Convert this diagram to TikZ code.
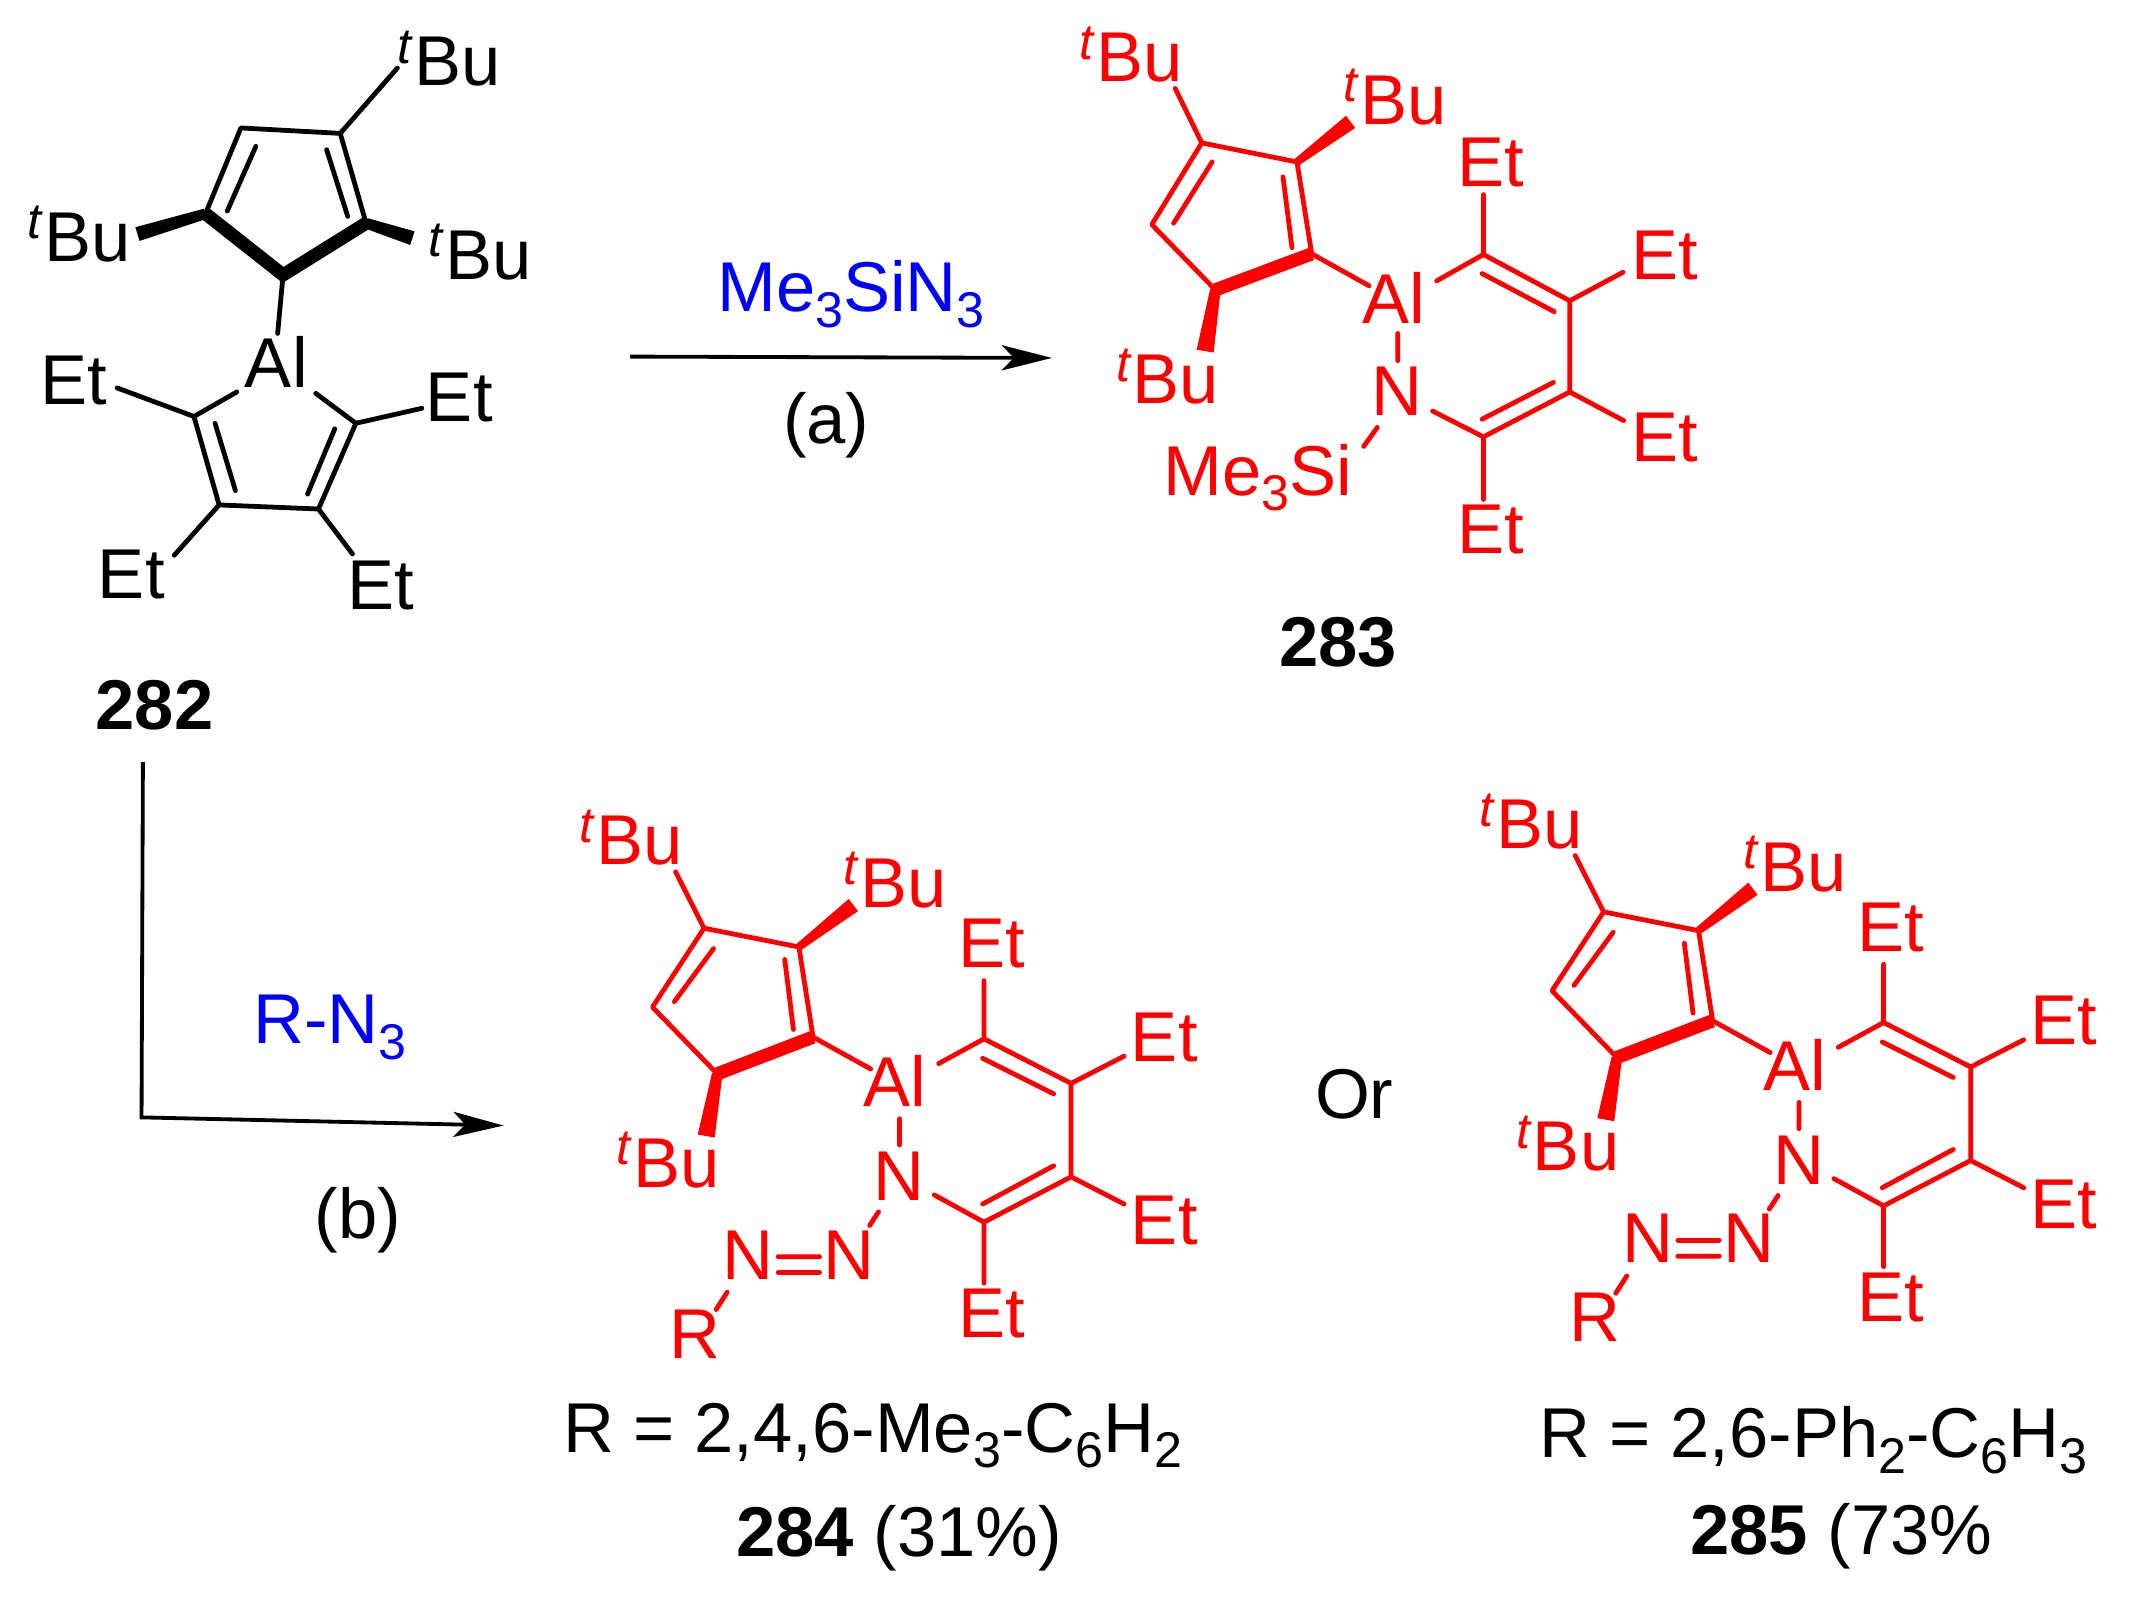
\documentclass[tikz,border=0pt]{standalone}
\usepackage{fontspec}
\setmainfont{Liberation Sans}
\usetikzlibrary{calc,arrows.meta}
\definecolor{molred}{RGB}{255,0,0}
\definecolor{reagblue}{RGB}{0,0,255}
\newcommand{\lowr}[1]{\raisebox{-0.22em}{\fontsize{21}{21}\selectfont #1}}
\newcommand{\tbu}{\raisebox{0.32em}{\fontsize{21}{21}\selectfont\itshape t}\kern1.2pt Bu}
\newcommand{\wdg}[4]{\fill ($(#1)!#3!90:(#2)$) -- ($(#1)!#3!-90:(#2)$) -- ($(#2)!#4!90:(#1)$) -- ($(#2)!#4!-90:(#1)$) -- cycle;}
\tikzset{
  lab/.style={anchor=base west,inner sep=0pt,outer sep=0pt,font=\fontsize{29.5}{29.5}\selectfont},
  captxt/.style={anchor=base west,inner sep=0pt,outer sep=0pt,font=\fontsize{29.5}{29.5}\selectfont,text=black},
  bond/.style={line width=2pt,line cap=round,line join=round},
  boldbond/.style={line width=5.5pt,line join=miter,line cap=butt},
  rxn/.style={line width=1.6pt,-{Stealth[length=21pt,width=10.5pt,inset=5pt]}}
}
% common skeleton of 284 and 285
\newcommand{\azidemol}{%
  \coordinate (ca) at (517.3,682); \coordinate (cb) at (587,695.8); \coordinate (cw) at (627,665);
  \coordinate (cc) at (597.4,762); \coordinate (cd) at (527,789); \coordinate (ce) at (479.4,740);
  \coordinate (tb) at (496.4,640.6); \coordinate (cx) at (518.9,834.7);
  \coordinate (i1) at (524.3,697); \coordinate (i2) at (495.5,736);
  \coordinate (i3) at (576.6,705); \coordinate (i4) at (583,756.4);
  \coordinate (alc) at (639.7,785.4); \coordinate (aln1) at (660.9,822); \coordinate (aln2) at (660.9,841.3);
  \coordinate (alr) at (689.7,781.5); \coordinate (r1) at (723,763.3); \coordinate (r2) at (787,796);
  \coordinate (r3) at (787,864.7); \coordinate (r4) at (723,898); \coordinate (rn) at (686.5,878);
  \coordinate (e1) at (723,720.5); \coordinate (e2) at (826,776); \coordinate (e3) at (826,884.7); \coordinate (e4) at (723,942.7);
  \coordinate (j1) at (722,777.6); \coordinate (j2) at (774.2,803.7); \coordinate (j3) at (722,884.7); \coordinate (j4) at (774.2,856.6);
  \coordinate (nn1) at (645.5,890.4); \coordinate (nn2) at (639,900.4);
  \coordinate (d1) at (571.8,923.4); \coordinate (d2) at (602.2,923.4); \coordinate (d3) at (571.8,935); \coordinate (d4) at (602.2,935);
  \coordinate (rb1) at (534.3,949.5); \coordinate (rb2) at (526.2,962.2);
  \draw[bond] (tb)--(ca)--(ce)--(cd) (ca)--(cb)--(cc) (i1)--(i2) (i3)--(i4) (cc)--(alc) (aln1)--(aln2)
    (alr)--(r1)--(r2)--(r3)--(r4)--(rn) (r1)--(e1) (r2)--(e2) (r3)--(e3) (r4)--(e4) (j1)--(j2) (j3)--(j4)
    (nn1)--(nn2) (d1)--(d2) (d3)--(d4) (rb1)--(rb2);
  \draw[boldbond] (cd)--(cc);
  \wdg{cb}{cw}{1.6pt}{3.2pt}
  \wdg{cd}{cx}{2.2pt}{3.6pt}
  \node[lab] (alu) at (634.6,813) {Al};
  \node[lab] (n1) at (642,882) {N};
  \node[lab] (n2) at (531,939.8) {N};
  \node[lab] (n3) at (605,939.8) {N};
  \node[lab] (rr) at (492,998) {R};
  \node[lab] (et1) at (704,711) {Et};
  \node[lab] (et2) at (831,779.6) {Et};
  \node[lab] (et3) at (831,914.7) {Et};
  \node[lab] (et4) at (704,983) {Et};
  \node[lab] (bu1) at (426,635.5) {\tbu};
  \node[lab] (bu2) at (620,666.8) {\tbu};
  \node[lab] (bu3) at (453,872.4) {\tbu};
}
\begin{document}
\begin{tikzpicture}[x=0.02cm,y=-0.02cm]
\useasboundingbox (0,0) rectangle (1568,1176.4);
% ---------- 282
\coordinate (a1) at (208,202); \coordinate (a2) at (151,157); \coordinate (a3) at (177,94);
\coordinate (a4) at (250,98); \coordinate (a5) at (269,164);
\coordinate (a6) at (292,50); \coordinate (a7) at (101,172); \coordinate (a8) at (303,175);
\coordinate (a9) at (204,245);
\coordinate (a10) at (188,107.5); \coordinate (a11) at (167,155); \coordinate (a12) at (240,110); \coordinate (a13) at (255.5,159);
\coordinate (b0) at (174,288); \coordinate (b1) at (142.5,306); \coordinate (b2) at (161,371);
\coordinate (b3) at (234,374); \coordinate (b4) at (261.5,311); \coordinate (b5) at (232,289);
\coordinate (b6) at (86,285); \coordinate (b7) at (310,300); \coordinate (b8) at (128,408); \coordinate (b9) at (259,407);
\coordinate (b10) at (158,311); \coordinate (b11) at (173,360.5); \coordinate (b12) at (246,315); \coordinate (b13) at (226,363);
\draw[bond] (a2)--(a3)--(a4)--(a5) (a4)--(a6) (a10)--(a11) (a12)--(a13) (a1)--(a9)
  (b0)--(b1)--(b2)--(b3)--(b4)--(b5) (b1)--(b6) (b4)--(b7) (b2)--(b8) (b3)--(b9) (b10)--(b11) (b12)--(b13);
\draw[boldbond] (a2)--(a1)--(a5);
\wdg{a2}{a7}{2.2pt}{3pt}
\wdg{a5}{a8}{2.2pt}{3pt}
\node[lab] (k0) at (180,285) {Al};
\node[lab] (k1) at (30,297) {Et};
\node[lab] (k2) at (313,310) {Et};
\node[lab] (k3) at (72,440) {Et};
\node[lab] (k4) at (255,448) {Et};
\node[lab] (k5) at (292,63) {\tbu};
\node[lab] (k6) at (20,192) {\tbu};
\node[lab] (k7) at (315,205) {\tbu};
\node[captxt,anchor=base] (l282) at (113.5,536) {\textbf{282}};
% ---------- 283
\begin{scope}[color=molred,text=molred]
\coordinate (c1) at (883,105); \coordinate (c2) at (953,119); \coordinate (c3) at (992.4,89.5);
\coordinate (c4) at (963.8,186.5); \coordinate (c5) at (893,213); \coordinate (c6) at (846.3,165);
\coordinate (c7) at (863.5,65); \coordinate (c8) at (885.5,258);
\coordinate (c9) at (890.6,119); \coordinate (c10) at (862.3,164); \coordinate (c11) at (942.7,130); \coordinate (c12) at (949.3,182);
\coordinate (c13) at (1006,210); \coordinate (c14) at (1027,245); \coordinate (c15) at (1027,265);
\coordinate (d5) at (1055.6,206.4); \coordinate (d6) at (1090,187); \coordinate (d7) at (1153.4,221);
\coordinate (d8) at (1153.4,288); \coordinate (d9) at (1090,321); \coordinate (d10) at (1052.6,302);
\coordinate (d11) at (1090,143); \coordinate (d12) at (1192.6,200); \coordinate (d13) at (1193,309); \coordinate (d14) at (1090,367);
\coordinate (d15) at (1089,201); \coordinate (d16) at (1142,229); \coordinate (d17) at (1089,308); \coordinate (d18) at (1141.4,281);
\coordinate (d19) at (1012,314); \coordinate (d20) at (1002,328);
\draw[bond] (c7)--(c1)--(c6)--(c5) (c1)--(c2)--(c4) (c9)--(c10) (c11)--(c12) (c4)--(c13) (c14)--(c15)
  (d5)--(d6)--(d7)--(d8)--(d9)--(d10) (d6)--(d11) (d7)--(d12) (d8)--(d13) (d9)--(d14) (d15)--(d16) (d17)--(d18) (d19)--(d20);
\draw[boldbond] (c5)--(c4);
\wdg{c2}{c3}{1.6pt}{3.2pt}
\wdg{c5}{c8}{2.2pt}{3.6pt}
\node[lab] (m0) at (1001,237.5) {Al};
\node[lab] (m1) at (1007.5,305) {N};
\node[lab] (m2) at (1071,137) {Et};
\node[lab] (m3) at (1199,205) {Et};
\node[lab] (m4) at (1199,339) {Et};
\node[lab] (m5) at (1071,407) {Et};
\node[lab] (m6) at (855,364) {Me\lowr{3}Si};
\node[lab] (m7) at (793,60) {\tbu};
\node[lab] (m8) at (987,91.5) {\tbu};
\node[lab] (m9) at (820,296.7) {\tbu};
\end{scope}
\node[captxt,anchor=base] (l283) at (983,490) {\textbf{283}};
% ---------- 284
\begin{scope}[color=molred,text=molred,name prefix=p-]
\azidemol
\end{scope}
\node[captxt] (t284) at (414,1067) {R = 2,4,6-Me\lowr{3}-C\lowr{6}H\lowr{2}};
\node[captxt] (l284) at (541,1144) {\textbf{284} (31\%)};
% ---------- 285
\begin{scope}[shift={(661,-12)},color=molred,text=molred,name prefix=q-]
\azidemol
\end{scope}
\node[captxt] (t285) at (1131,1071) {R = 2,6-Ph\lowr{2}-C\lowr{6}H\lowr{3}};
\node[captxt] (l285) at (1242,1142) {\textbf{285} (73\%};
\node[captxt,anchor=base] (orr) at (995,822) {Or};
% ---------- arrows and reagents
\coordinate (s1) at (463,262); \coordinate (s2) at (773,263);
\draw[rxn] (s1)--(s2);
\coordinate (s3) at (105,560); \coordinate (s4) at (104,821); \coordinate (s5) at (370,827);
\draw[rxn] (s3)--(s4)--(s5);
\node[captxt,text=reagblue] (r1t) at (527,229) {Me\lowr{3}SiN\lowr{3}};
\node[captxt,anchor=base] (ra) at (607,326) {(a)};
\node[captxt,text=reagblue] (r2t) at (186,767) {R-N\lowr{3}};
\node[captxt,anchor=base] (rb) at (263,910) {(b)};
\end{tikzpicture}
\end{document}
